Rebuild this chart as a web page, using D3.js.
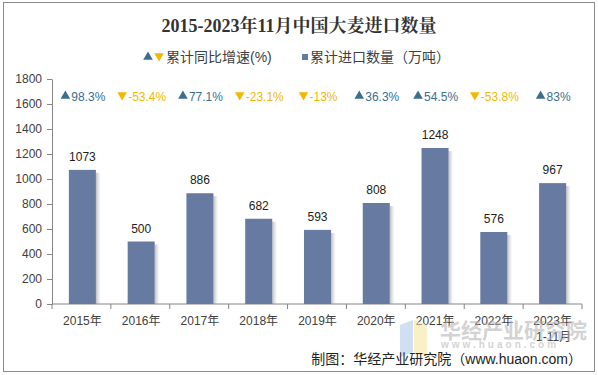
<!DOCTYPE html>
<html>
<head>
<meta charset="utf-8">
<script src="https://cdn.jsdelivr.net/npm/d3@7"></script>
<style>
  body { margin: 0; background: #fff; }
  svg text { font-family: "Liberation Sans", Arial, "Noto Sans CJK SC", sans-serif; }
</style>
</head>
<body>
<div id="main"></div>
<script>
// data
var years = ["2015年", "2016年", "2017年", "2018年", "2019年", "2020年", "2021年", "2022年", "2023年"];
var imports = [1073, 500, 886, 682, 593, 808, 1248, 576, 967];
var growth = [98.3, -53.4, 77.1, -23.1, -13, 36.3, 54.5, -53.8, 83];
var yTicks = [0, 200, 400, 600, 800, 1000, 1200, 1400, 1600, 1800];

var W = 598, H = 375;
var blue = "#667aa2", up = "#3b6e8f", down = "#f5b800";

var svg = d3.select("#main").append("svg")
    .attr("width", W).attr("height", H);

var defs = svg.append("defs");
var grad = defs.append("linearGradient").attr("id", "shade");
grad.append("stop").attr("offset", "0%").attr("stop-color", "#888").attr("stop-opacity", 0.55);
grad.append("stop").attr("offset", "100%").attr("stop-color", "#bbb").attr("stop-opacity", 0);

var tri = function(sz) { return d3.symbol(d3.symbolTriangle, sz)(); };

// frame
svg.append("rect").attr("x", 3.5).attr("y", 2.5).attr("width", 591).attr("height", 369)
    .attr("fill", "#fff").attr("stroke", "#8c8c8c").attr("stroke-width", 1);

svg.append("text").attr("x", 299).attr("y", 32).attr("text-anchor", "middle")
    .style("font-family", "'Liberation Serif', 'Noto Serif CJK SC', 'Noto Sans CJK SC', serif")
    .style("font-weight", "bold").style("font-size", "18px").attr("fill", "#333")
    .text("2015-2023年11月中国大麦进口数量");

// legend
var lg = svg.append("g").attr("transform", "translate(0,57)");
lg.append("path").attr("d", tri(40)).attr("transform", "translate(148,0)").attr("fill", up);
lg.append("path").attr("d", tri(40)).attr("transform", "translate(159,-1) rotate(180)").attr("fill", down);
lg.append("text").attr("x", 166).attr("y", 5).style("font-size", "14px").attr("fill", "#404040").text("累计同比增速(%)");
lg.append("rect").attr("x", 302).attr("y", -3).attr("width", 6).attr("height", 6).attr("fill", blue);
lg.append("text").attr("x", 310).attr("y", 5).style("font-size", "14px").attr("fill", "#404040").text("累计进口数量（万吨）");

var margin = {left: 53, right: 16, top: 79, bottom: 71};
var x = d3.scaleBand().domain(years).range([margin.left, W - margin.right]).paddingInner(0.54).paddingOuter(0.27);
var y = d3.scaleLinear().domain([0, 1800]).range([H - margin.bottom, margin.top]);

// y axis
var yAxis = svg.append("g").attr("transform", "translate(" + (margin.left - 1) + ",0)")
    .call(d3.axisLeft(y).tickValues(yTicks).tickFormat(d3.format("d")).tickSize(5).tickSizeOuter(0));
yAxis.selectAll("text").style("font-size", "12px").attr("fill", "#404040").attr("dx", "-2px");
yAxis.selectAll("line, path").attr("stroke", "#868686");

// x axis with ticks at category borders
var x0 = margin.left - 1, x1 = W - margin.right;
var step = (x1 - x0) / years.length;
var xa = svg.append("g");
xa.append("line").attr("x1", x0).attr("x2", x1).attr("y1", y(0)).attr("y2", y(0)).attr("stroke", "#868686");
xa.selectAll(".tk").data(d3.range(years.length + 1)).enter().append("line")
    .attr("x1", function(i) { return x0 + i * step; }).attr("x2", function(i) { return x0 + i * step; })
    .attr("y1", y(0)).attr("y2", y(0) + 5).attr("stroke", "#868686");

// watermark (drawn under the axis labels, as in the picture)
var wm = svg.append("g").attr("opacity", 0.55);
wm.append("path").attr("d", "M400,325 L413,320 L413,352 L400,357 Z").attr("fill", "#a8c8ea");
wm.append("path").attr("d", "M414,320 L427,325 L427,357 L414,352 Z").attr("fill", "#f6e49a");
wm.append("text").attr("x", 440).attr("y", 338).style("font-size", "21px").style("font-weight", "bold")
    .attr("fill", "#b0b0b0").text("华经产业研究院");
wm.append("text").attr("x", 441).attr("y", 348).style("font-size", "10px").style("font-weight", "bold")
    .attr("fill", "#b0b0b0").attr("letter-spacing", "3px").text("www.huaon.com");

xa.selectAll(".lbl").data(years).enter().append("text")
    .attr("x", function(d) { return x(d) + x.bandwidth() / 2; })
    .attr("y", y(0) + 21).attr("text-anchor", "middle")
    .style("font-size", "12px").attr("fill", "#404040").text(function(d) { return d; });
xa.append("text").attr("x", x(years[8]) + x.bandwidth() / 2 + 1).attr("y", y(0) + 37).attr("text-anchor", "middle")
    .style("font-size", "12px").attr("fill", "#404040").text("1-11月");

// bars
var bars = svg.append("g");
bars.selectAll(".sh").data(imports).enter().append("rect")
    .attr("x", function(d, i) { return x(years[i]) + x.bandwidth(); })
    .attr("y", function(d) { return y(d) + 3; })
    .attr("width", 5)
    .attr("height", function(d) { return y(0) - y(d) - 3; })
    .attr("fill", "url(#shade)");
bars.selectAll(".bar").data(imports).enter().append("rect")
    .attr("x", function(d, i) { return x(years[i]); })
    .attr("y", function(d) { return y(d); })
    .attr("width", x.bandwidth())
    .attr("height", function(d) { return y(0) - y(d); })
    .attr("fill", blue);
bars.selectAll(".val").data(imports).enter().append("text")
    .attr("x", function(d, i) { return x(years[i]) + x.bandwidth() / 2; })
    .attr("y", function(d) { return y(d) - 9; })
    .attr("text-anchor", "middle").style("font-size", "12px").attr("fill", "#222")
    .text(function(d) { return d; });

// growth labels: triangle marker + number
var gl = svg.append("g").selectAll("g").data(growth).enter().append("g")
    .attr("transform", function(d, i) { return "translate(" + (x(years[i]) + x.bandwidth() / 2) + ",96)"; });
gl.append("text").attr("class", "pct")
    .attr("x", 6).attr("y", 5).attr("text-anchor", "middle").style("font-size", "12px")
    .attr("fill", function(d) { return d >= 0 ? up : down; })
    .text(function(d) { return d + "%"; });
gl.each(function(d) {
    var g = d3.select(this);
    var w = g.select(".pct").node().getComputedTextLength();
    g.append("path").attr("d", tri(40))
        .attr("transform", "translate(" + (6 - w / 2 - 6) + "," + (d >= 0 ? 0 : -1) + ")" + (d >= 0 ? "" : " rotate(180)"))
        .attr("fill", d >= 0 ? up : down);
});

// source
svg.append("text").attr("x", 582).attr("y", 364).attr("text-anchor", "end")
    .style("font-size", "14px").attr("fill", "#222").text("制图：华经产业研究院（www.huaon.com）");
</script>
</body>
</html>
